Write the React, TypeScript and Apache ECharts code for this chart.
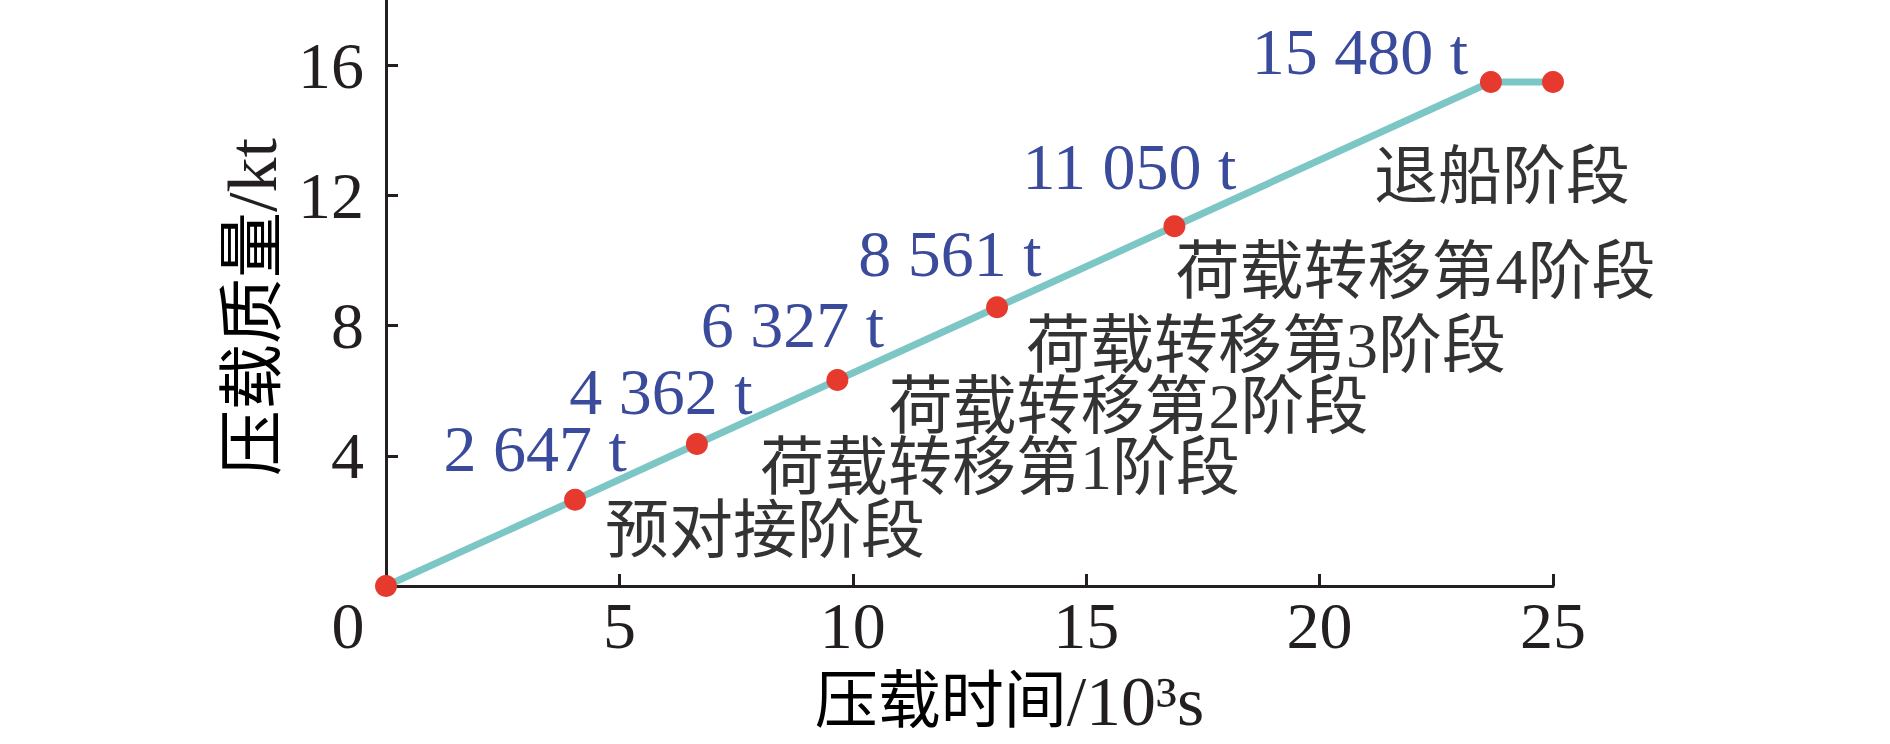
import React, { useEffect, useRef } from "react";
import * as echarts from "echarts";

// Data
const timeKs = [0, 4.05, 6.66, 9.67, 13.09, 16.89, 23.67, 25.0]; // 10^3 s
const massKt = [0, 2.647, 4.362, 6.327, 8.561, 11.05, 15.48, 15.48]; // kt
const stageNames = [
  "",
  "预对接阶段",
  "荷载转移第1阶段",
  "荷载转移第2阶段",
  "荷载转移第3阶段",
  "荷载转移第4阶段",
  "退船阶段",
  "",
];
const showMassLabel = [false, true, true, true, true, true, true, false];
const yTickLabels = [4, 8, 12, 16];
const yTicks = [0, 4, 8, 12, 16];
const xTitleCjk = "压载时间";
const xTitleUnit = "/10³s";
const yTitleCjk = "压载质量";
const yTitleUnit = "/kt";

// Label placement (styles, pixels)
const valueOffsets: [number, number][] = [
  [0, 0],
  [-40, -51],
  [-36, -52],
  [-45, -56],
  [-47, -54],
  [-45, -60],
  [-131, -31],
  [0, 0],
];
const stageOffsets: [number, number][] = [
  [0, 0],
  [190, 31],
  [303, 24],
  [291, 26],
  [269, 38],
  [241, 45],
  [11, 94],
  [0, 0],
];

const INK = "#231f20";
const BLUE = "#3a4b9b";
const TEAL = "#7cc6c5";
const RED = "#e63a2f";
const SERIF = "'Liberation Serif', 'Times New Roman', serif";
const MIXED = "'Liberation Serif', 'Noto Sans CJK SC', serif";

function fmtTonnes(kt: number): string {
  const t = String(Math.round(kt * 1000));
  return t.replace(/\B(?=(\d{3})+(?!\d))/g, " ") + " t";
}

export default function App() {
  const ref = useRef<HTMLDivElement>(null);

  useEffect(() => {
    if (!ref.current) return;
    const chart = echarts.init(ref.current, null, { renderer: "svg" });
    const option: any = {
      animation: false,
      backgroundColor: "#ffffff",
      grid: { left: 386, right: 337, top: 0, bottom: 158, containLabel: false },
      xAxis: {
        type: "value",
        min: 0,
        max: 25,
        interval: 5,
        name: "{c|" + xTitleCjk + "}{s|" + xTitleUnit + "}",
        nameLocation: "middle",
        nameGap: 80,
        nameTextStyle: {
          color: INK,
          padding: [0, 0, 0, 80],
          rich: {
            c: { fontSize: 63, fontFamily: MIXED, color: "#000" },
            s: { fontSize: 70, fontFamily: SERIF, color: INK },
          },
        },
        axisLine: { show: true, lineStyle: { color: INK, width: 3 } },
        axisTick: { show: true, inside: true, length: 12, lineStyle: { color: INK, width: 3 } },
        splitLine: { show: false },
        axisLabel: {
          margin: 6,
          fontSize: 66,
          fontFamily: SERIF,
          color: INK,
          formatter: (v: number) => (v === 0 ? "{z|0}" : String(v)),
          rich: {
            z: {
              fontSize: 66,
              fontFamily: SERIF,
              color: INK,
              padding: [0, 76, 0, 0],
            },
          },
        },
      },
      yAxis: {
        type: "value",
        min: 0,
        max: 18,
        interval: 4,
        name: "{c|" + yTitleCjk + "}{s|" + yTitleUnit + "}",
        nameLocation: "middle",
        nameGap: 94,
        nameTextStyle: {
          color: INK,
          padding: [0, 28, 0, 0],
          rich: {
            c: { fontSize: 66, fontFamily: MIXED, color: "#000" },
            s: { fontSize: 70, fontFamily: SERIF, color: INK },
          },
        },
        axisLine: { show: true, lineStyle: { color: INK, width: 3 } },
        axisTick: {
          show: true,
          inside: true,
          length: 12,
          customValues: yTicks,
          lineStyle: { color: INK, width: 3 },
        },
        splitLine: { show: false },
        axisLabel: {
          margin: 22,
          fontSize: 66,
          fontFamily: SERIF,
          color: INK,
          customValues: yTickLabels,
          padding: [0, 0, 12, 0],
        },
      },
      series: [
        {
          type: "line",
          clip: false,
          silent: true,
          data: timeKs.map((t, i) => ({
            value: [t, massKt[i]],
            label: { show: showMassLabel[i], offset: valueOffsets[i] },
          })),
          symbol: "circle",
          symbolSize: 22,
          itemStyle: { color: RED },
          lineStyle: { color: TEAL, width: 7 },
          label: {
            position: "inside",
            align: "center",
            verticalAlign: "middle",
            fontSize: 66,
            lineHeight: 58,
            fontFamily: SERIF,
            color: BLUE,
            formatter: (p: any) => fmtTonnes(p.value[1]),
          },
          z: 3,
        },
        {
          type: "scatter",
          clip: false,
          silent: true,
          symbolSize: 1,
          itemStyle: { color: "rgba(0,0,0,0)" },
          data: timeKs.map((t, i) => ({
            value: [t, massKt[i]],
            label: { show: stageNames[i] !== "", offset: stageOffsets[i] },
          })),
          label: {
            position: "inside",
            align: "center",
            verticalAlign: "middle",
            fontSize: 64,
            lineHeight: 56,
            fontFamily: MIXED,
            color: "#000",
            formatter: (p: any) => stageNames[p.dataIndex],
          },
          z: 4,
        },
      ],
    };
    chart.setOption(option);
    return () => chart.dispose();
  }, []);

  return (
    <div
      ref={ref}
      style={{
        position: "fixed",
        left: 0,
        top: 0,
        width: 1890,
        height: 744,
        background: "#ffffff",
      }}
    />
  );
}
